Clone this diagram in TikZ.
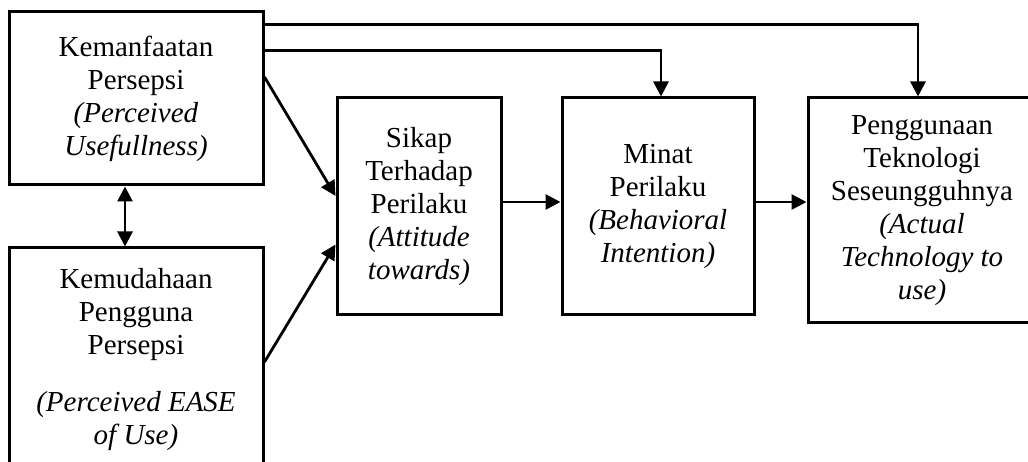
\documentclass[tikz,border=0pt]{standalone}
\usepackage{fontspec}
\setmainfont{Liberation Serif}
\usetikzlibrary{arrows.meta}
\tikzset{
  x=1pt, y=-1pt,
  box/.style={draw, line width=3pt, rectangle, align=center, inner sep=0pt,
    font=\fontsize{29}{33}\selectfont},
  conn/.style={line width=2.8pt, -{Triangle[length=15pt,width=15pt]}},
  dconn/.style={line width=2.8pt, {Triangle[length=15pt,width=15pt]}-{Triangle[length=15pt,width=15pt]}},
}
\begin{document}
\begin{tikzpicture}
\useasboundingbox (0,0) rectangle (1028,462);
\clip (0,0) rectangle (1028,462);
\node[box, minimum width=254pt, minimum height=173pt] (A) at (136,98.5)
  {Kemanfaatan\\Persepsi\\\textit{(Perceived}\\\textit{Usefullness)}};
\node[box, minimum width=254pt, minimum height=224pt] (B) at (136,360)
  {Kemudahaan\\Pengguna\\Persepsi\\[24pt]\textit{(Perceived EASE}\\\textit{of Use)}};
\node[box, minimum width=164pt, minimum height=217pt] (C) at (419,206.5)
  {Sikap\\Terhadap\\Perilaku\\\textit{(Attitude}\\\textit{towards)}};
\node[box, minimum width=192pt, minimum height=217pt] (D) at (658,206.5)
  {Minat\\Perilaku\\\textit{(Behavioral}\\\textit{Intention)}};
\node[box, minimum width=228pt, minimum height=225pt] (E) at (922,210.5)
  {Penggunaan\\Teknologi\\Seseungguhnya\\\textit{(Actual}\\\textit{Technology to}\\\textit{use)}};
\draw[dconn] ([xshift=-11pt]A.south) -- ([xshift=-11pt]B.north);
\draw[conn] ([yshift=-14pt]A.north east) -| ([xshift=-4pt]E.north);
\draw[conn] ([yshift=-40pt]A.north east) -| ([xshift=3pt]D.north);
\draw[conn] ([yshift=21.5pt]A.east) -- ([yshift=10.5pt]C.west);
\draw[conn] ([yshift=-2pt]B.east) -- ([yshift=-38pt]C.west);
\draw[conn] ([yshift=4.5pt]C.east) -- ([yshift=4.5pt]D.west);
\draw[conn] ([yshift=4.5pt]D.east) -- ([yshift=4.5pt]D.east -| E.west);
\end{tikzpicture}
\end{document}
